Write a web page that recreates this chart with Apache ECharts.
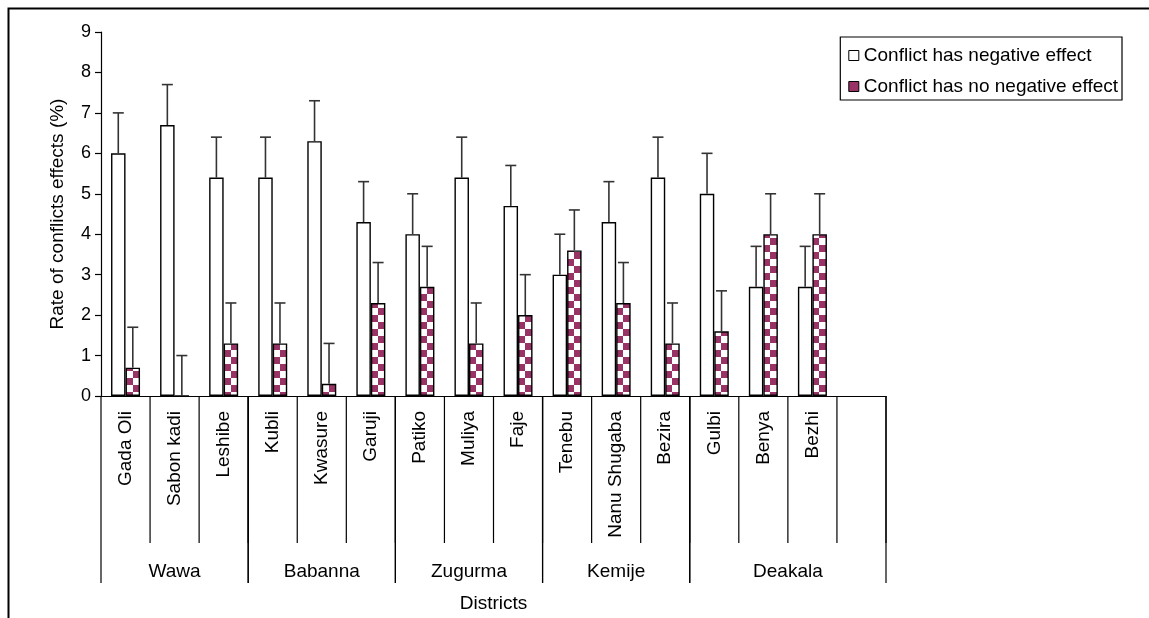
<!DOCTYPE html>
<html>
<head>
<meta charset="utf-8">
<script src="https://cdn.jsdelivr.net/npm/echarts@6/dist/echarts.min.js"></script>
<style>
  html, body { margin: 0; padding: 0; background: #fff; overflow: hidden; }
  #chart { width: 1149px; height: 618px; }
</style>
</head>
<body>
<div id="chart"></div>
<script>
// Sites along the x axis (the last slot is left empty)
const sites = ['Gada Oli', 'Sabon kadi', 'Leshibe', 'Kubli', 'Kwasure', 'Garuji',
  'Patiko', 'Muliya', 'Faje', 'Tenebu', 'Nanu Shugaba', 'Bezira', 'Gulbi', 'Benya', 'Bezhi', ''];

// Districts and the number of site slots each one spans
const districts = ['Wawa', 'Babanna', 'Zugurma', 'Kemije', 'Deakala'];
const districtSpans = [3, 3, 3, 3, 4];

// Rate of conflict effects (%)
const negativeEffect = [6.0, 6.7, 5.4, 5.4, 6.3, 4.3, 4.0, 5.4, 4.7, 3.0, 4.3, 5.4, 5.0, 2.7, 2.7];
const noNegativeEffect = [0.7, 0.0, 1.3, 1.3, 0.3, 2.3, 2.7, 1.3, 2.0, 3.6, 2.3, 1.3, 1.6, 4.0, 4.0];

// Upper error margins
const negativeErr = [1, 1, 1, 1, 1, 1, 1, 1, 1, 1, 1, 1, 1, 1, 1];
const noNegativeErr = [1, 1, 1, 1, 1, 1, 1, 1, 1, 1, 1, 1, 1, 1, 1];

const yTicks = [0, 1, 2, 3, 4, 5, 6, 7, 8, 9];

const FONT = 'Liberation Sans, Arial, sans-serif';
const MAROON = '#993366';
const BAR_W = 14.5;

// Checkerboard fill for the second series
function checkerCanvas() {
  const c = document.createElement('canvas');
  c.width = 14; c.height = 14;
  const ctx = c.getContext('2d');
  ctx.fillStyle = '#ffffff';
  ctx.fillRect(0, 0, 14, 14);
  ctx.fillStyle = MAROON;
  ctx.fillRect(0, 0, 7, 7);
  ctx.fillRect(7, 7, 7, 7);
  return c;
}
const checker = { image: checkerCanvas(), repeat: 'repeat' };

// Error bar data: [slot index, value, margin]
function errData(vals, errs) {
  return vals.map((v, i) => [i, v, errs[i]]);
}

function errRenderer(offset) {
  return function (params, api) {
    const i = api.value(0);
    const v = api.value(1);
    const e = api.value(2);
    const base = api.coord([i, v]);
    const top = api.coord([i, v + e]);
    const x = base[0] + offset;
    const style = { stroke: '#333', lineWidth: 1.6 };
    return {
      type: 'group',
      children: [
        { type: 'line', shape: { x1: x, y1: base[1], x2: x, y2: top[1] }, style: style },
        { type: 'line', shape: { x1: x - 5.5, y1: top[1], x2: x + 5.5, y2: top[1] }, style: style }
      ]
    };
  };
}

// District bands below the site labels: [start slot, end slot, name]
const districtData = [];
(function () {
  let s = 0;
  districts.forEach((d, k) => {
    districtData.push([s, s + districtSpans[k], d]);
    s += districtSpans[k];
  });
})();

// Boundaries between site slots
const siteBounds = sites.map((s, i) => [i + 1]);

const chart = echarts.init(document.getElementById('chart'), null, { renderer: 'canvas', width: 1149, height: 618 });

chart.setOption({
  animation: false,
  backgroundColor: '#ffffff',
  textStyle: { fontFamily: FONT },
  grid: { left: 101, width: 785, top: 32, height: 364, containLabel: false },
  legend: {
    right: 27,
    top: 37,
    orient: 'vertical',
    itemWidth: 10,
    itemHeight: 10,
    itemGap: 10,
    padding: [8, 4, 3, 8],
    borderColor: '#000',
    borderWidth: 1.2,
    textStyle: { fontSize: 19, lineHeight: 21, color: '#000', fontFamily: FONT },
    data: [
      { name: 'Conflict has negative effect', icon: 'rect',
        itemStyle: { color: '#fff', borderColor: '#000', borderWidth: 1 } },
      { name: 'Conflict has no negative effect', icon: 'rect',
        itemStyle: { color: MAROON, borderColor: '#000', borderWidth: 1 } }
    ]
  },
  xAxis: [
    {
      type: 'category',
      data: sites,
      boundaryGap: true,
      axisLine: { show: true, lineStyle: { color: '#000', width: 1.2 } },
      axisTick: { show: false },
      axisLabel: {
        interval: 0, rotate: 90, margin: 15,
        fontSize: 19, color: '#000', fontFamily: FONT
      },
      splitLine: { show: false },
      name: 'Districts',
      nameLocation: 'middle',
      nameGap: 198,
      nameTextStyle: { fontSize: 19, color: '#000', fontFamily: FONT }
    },
    {
      type: 'value',
      min: 0,
      max: sites.length,
      show: false
    }
  ],
  yAxis: {
    type: 'value',
    min: 0,
    max: 9,
    interval: 1,
    axisLine: { show: true, lineStyle: { color: '#000', width: 1.2 } },
    axisTick: { show: true, length: 6, lineStyle: { color: '#000', width: 1.2 } },
    axisLabel: {
      fontSize: 18, color: '#000', margin: 10, fontFamily: FONT,
      formatter: v => yTicks.indexOf(v) >= 0 ? String(v) : ''
    },
    splitLine: { show: false },
    name: 'Rate of conflicts effects (%)',
    nameLocation: 'middle',
    nameGap: 34,
    nameTextStyle: { fontSize: 19, color: '#000', fontFamily: FONT }
  },
  graphic: [
    {
      type: 'polyline',
      shape: { points: [[8.5, 640], [8.5, 8.5], [1160, 8.5]] },
      style: { stroke: '#000', lineWidth: 2, fill: null },
      silent: true
    }
  ],
  series: [
    {
      name: 'Conflict has negative effect',
      type: 'bar',
      data: negativeEffect,
      barWidth: BAR_W,
      barGap: '0%',
      itemStyle: { color: '#ffffff', borderColor: '#000', borderWidth: 1.4 },
      z: 2
    },
    {
      name: 'Conflict has no negative effect',
      type: 'bar',
      data: noNegativeEffect,
      barWidth: BAR_W,
      barGap: '0%',
      itemStyle: { color: checker, borderColor: '#000', borderWidth: 1.4 },
      z: 2
    },
    {
      type: 'custom',
      data: errData(negativeEffect, negativeErr),
      renderItem: errRenderer(-BAR_W / 2),
      z: 3,
      silent: true
    },
    {
      type: 'custom',
      data: errData(noNegativeEffect, noNegativeErr),
      renderItem: errRenderer(BAR_W / 2),
      z: 3,
      silent: true
    },
    {
      // Separators between the site labels
      type: 'custom',
      xAxisIndex: 1,
      data: siteBounds,
      clip: false,
      silent: true,
      renderItem: function (params, api) {
        const p = api.coord([api.value(0), 0]);
        return {
          type: 'line',
          shape: { x1: p[0], y1: p[1], x2: p[0], y2: p[1] + 147 },
          style: { stroke: '#000', lineWidth: 1.2 }
        };
      }
    },
    {
      // District brackets and names under the site labels
      type: 'custom',
      xAxisIndex: 1,
      data: districtData,
      clip: false,
      silent: true,
      renderItem: function (params, api) {
        const a = api.coord([api.value(0), 0]);
        const b = api.coord([api.value(1), 0]);
        const style = { stroke: '#000', lineWidth: 1.2 };
        return {
          type: 'group',
          children: [
            { type: 'line', shape: { x1: a[0], y1: a[1], x2: a[0], y2: a[1] + 187 }, style: style },
            { type: 'line', shape: { x1: b[0], y1: b[1], x2: b[0], y2: b[1] + 187 }, style: style },
            {
              type: 'text',
              style: {
                text: api.value(2),
                x: (a[0] + b[0]) / 2,
                y: a[1] + 176,
                align: 'center',
                verticalAlign: 'middle',
                font: '19px ' + FONT,
                fill: '#000'
              }
            }
          ]
        };
      }
    }
  ]
});
</script>
</body>
</html>
